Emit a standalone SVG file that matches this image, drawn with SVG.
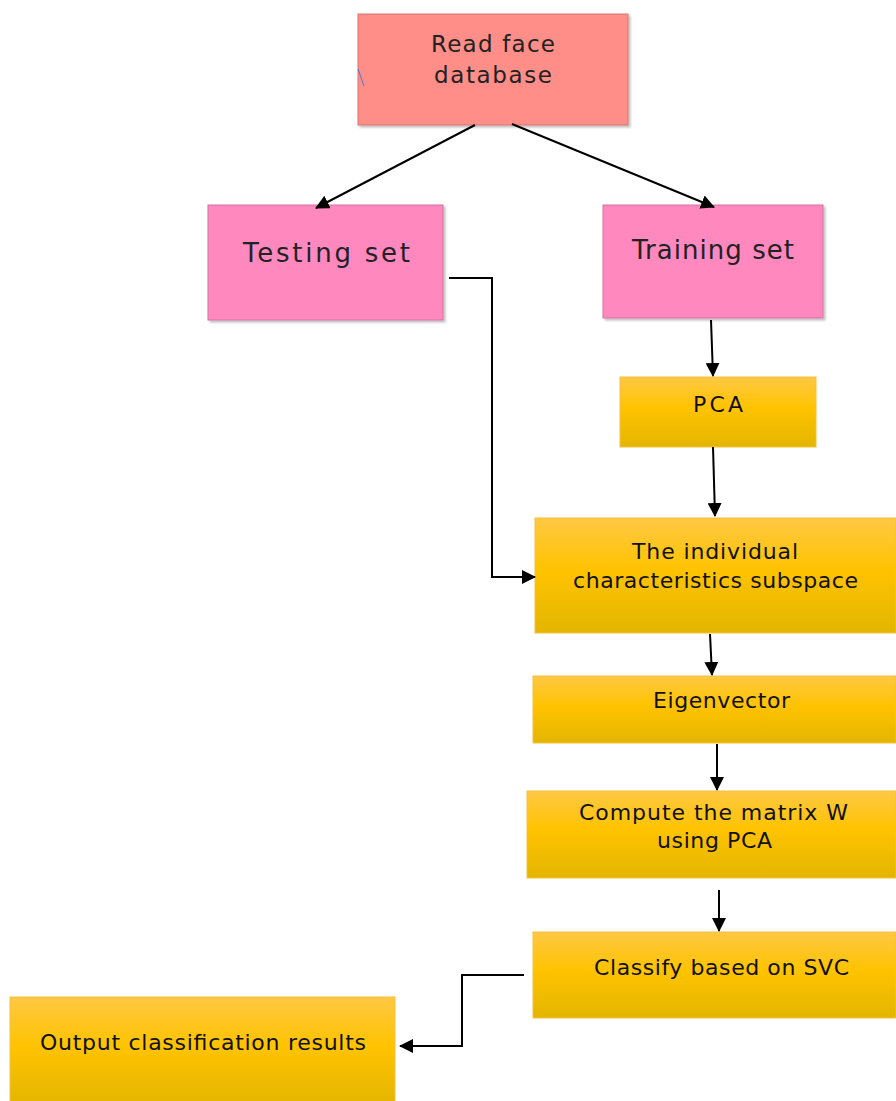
<svg xmlns="http://www.w3.org/2000/svg" width="896" height="1101" viewBox="0 0 896 1101">
<defs>
<linearGradient id="gold" x1="0" y1="0" x2="0" y2="1">
<stop offset="0" stop-color="#FFC844"/>
<stop offset="0.45" stop-color="#FFC300"/>
<stop offset="1" stop-color="#E3B500"/>
</linearGradient>
<marker id="ah" viewBox="0 0 14 14" refX="13" refY="7" markerWidth="14" markerHeight="14" markerUnits="userSpaceOnUse" orient="auto">
<path d="M0,0 L14,7 L0,14 Z" fill="#000"/>
</marker>
<filter id="sh" x="-5%" y="-5%" width="112%" height="115%">
<feDropShadow dx="2" dy="2" stdDeviation="1.2" flood-color="#000" flood-opacity="0.25"/>
</filter>
</defs>
<style>
text{font-family:"DejaVu Sans","Liberation Sans",sans-serif;fill:#111;font-size:22px}
.lg{font-size:26px;fill:#222}
.md{font-size:23px;fill:#222}
.gold{fill:url(#gold);stroke:#F5C040;stroke-width:1}
.pink{fill:#FF88BF;stroke:#D870A0;stroke-width:1}
.conn{stroke:#000;stroke-width:2;fill:none}
</style>
<g id="read">
<rect x="358" y="14" width="270" height="111" fill="#FF8D88" stroke="#D77470" stroke-width="1" filter="url(#sh)"/>
<text class="md" x="431" y="52" textLength="124">Read face</text>
<text class="md" x="434" y="83" textLength="118">database</text>
</g>
<line x1="358" y1="69" x2="364" y2="86" stroke="#4A7AD8" stroke-width="1"/>
<g id="testing">
<rect x="208" y="205" width="235" height="115" class="pink" filter="url(#sh)"/>
<text class="lg" x="243" y="262" textLength="167">Testing set</text>
</g>
<g id="training">
<rect x="603" y="205" width="220" height="113" class="pink" filter="url(#sh)"/>
<text class="lg" x="632" y="259" textLength="162">Training set</text>
</g>
<g id="pca">
<rect x="620" y="377" width="196" height="70" class="gold"/>
<text x="693" y="412" textLength="50">PCA</text>
</g>
<g id="subspace">
<rect x="535" y="518" width="361" height="115" class="gold"/>
<text x="632" y="559" textLength="166">The individual</text>
<text x="573" y="588" textLength="285">characteristics subspace</text>
</g>
<g id="eigen">
<rect x="533" y="676" width="363" height="67" class="gold"/>
<text x="653" y="708" textLength="137">Eigenvector</text>
</g>
<g id="compute">
<rect x="527" y="791" width="369" height="87" class="gold"/>
<text x="579" y="820" textLength="269">Compute the matrix W</text>
<text x="657" y="848" textLength="115">using PCA</text>
</g>
<g id="classify">
<rect x="533" y="932" width="363" height="86" class="gold"/>
<text x="594" y="975" textLength="255">Classify based on SVC</text>
</g>
<g id="output">
<rect x="10" y="997" width="385" height="110" class="gold"/>
<text x="40" y="1050" textLength="326">Output classification results</text>
</g>
<g id="connectors">
<line class="conn" x1="475" y1="125" x2="316" y2="208" marker-end="url(#ah)"/>
<line class="conn" x1="512" y1="124" x2="714" y2="207" marker-end="url(#ah)"/>
<polyline class="conn" points="449,278 492,278 492,577 535,577" marker-end="url(#ah)"/>
<line class="conn" x1="711" y1="320" x2="713" y2="376" marker-end="url(#ah)"/>
<line class="conn" x1="713" y1="447" x2="715" y2="516" marker-end="url(#ah)"/>
<line class="conn" x1="710" y1="634" x2="712" y2="675" marker-end="url(#ah)"/>
<line class="conn" x1="717" y1="744" x2="717" y2="790" marker-end="url(#ah)"/>
<line class="conn" x1="719" y1="890" x2="719" y2="931" marker-end="url(#ah)"/>
<polyline class="conn" points="524,975 462,975 462,1046 400,1046" marker-end="url(#ah)"/>
</g>
</svg>
